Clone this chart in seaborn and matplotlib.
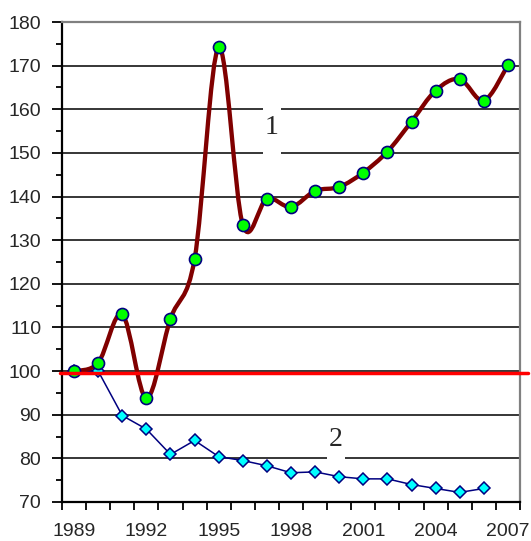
import numpy as np
import matplotlib
matplotlib.use("Agg")
import matplotlib.pyplot as plt
import seaborn as sns
from matplotlib.path import Path
from matplotlib.patches import PathPatch, Rectangle

# data
years_1 = list(range(1989, 2008))
index_1 = [100, 101.9, 113.0, 93.8, 112.0, 125.7, 174.2, 133.5, 139.5, 137.6,
           141.3, 142.2, 145.5, 150.3, 157.2, 164.3, 166.9, 162.0, 170.1]
years_2 = list(range(1989, 2007))
index_2 = [100, 100, 89.8, 86.7, 80.9, 84.1, 80.4, 79.5, 78.3, 76.7,
           76.9, 75.8, 75.3, 75.3, 74.0, 73.1, 72.2, 73.1]
baseline = 99.6
year_labels = years_1[::3]
y_ticks = list(range(70, 181, 10))

sns.set_style("white")
plt.rcParams["font.family"] = ["Liberation Sans", "DejaVu Sans"]


def smooth_path(xs, ys):
    # Excel-like smoothed line: Catmull-Rom segments as cubic Bezier curves
    pts = np.column_stack([xs, ys]).astype(float)
    n = len(pts)
    verts = [pts[0]]
    codes = [Path.MOVETO]
    for i in range(n - 1):
        p0 = pts[i - 1] if i > 0 else pts[i]
        p1 = pts[i]
        p2 = pts[i + 1]
        p3 = pts[i + 2] if i + 2 < n else pts[i + 1]
        verts += [p1 + (p2 - p0) / 6, p2 - (p3 - p1) / 6, p2]
        codes += [Path.CURVE4] * 3
    return Path(verts, codes)


fig = plt.figure(figsize=(5.31, 5.41), dpi=100)
ax = fig.add_axes([0.1168, 0.0721, 0.8625, 0.8872])

# series 2 - thin navy line with cyan diamonds
sns.lineplot(x=years_2, y=index_2, ax=ax, color="#000080", lw=1.1,
             marker="D", markersize=6.5, markerfacecolor="#00FFFF",
             markeredgecolor="#000080", markeredgewidth=1.1, zorder=3)

# series 1 - thick dark red smoothed line with green dots
ax.add_patch(PathPatch(smooth_path(years_1, index_1), facecolor="none",
                       edgecolor="#800000", lw=3.1, capstyle="round",
                       joinstyle="round", zorder=4))
sns.scatterplot(x=years_1, y=index_1, ax=ax, s=75, color="#00FF00",
                edgecolor="#000080", linewidth=1.2, zorder=5)

# red 100% line
ax.axhline(baseline, xmin=-0.004, xmax=1.017, color="#FF0000", lw=2.5,
           clip_on=False, zorder=6)

ax.set_xlim(1988.5, 2007.5)
ax.set_ylim(70, 180)

ax.set_xticks(np.arange(1988.5, 2008, 1))
ax.set_xticklabels([])
ax.set_xticks(year_labels, minor=True)
ax.set_xticklabels([str(y) for y in year_labels], minor=True)
ax.tick_params(axis="x", which="major", direction="out", length=6, width=1.3,
               color="black", bottom=True)
ax.tick_params(axis="x", which="minor", length=0, pad=15, labelsize=14)

ax.set_yticks(y_ticks)
ax.set_yticks(np.arange(75, 180, 10), minor=True)
ax.tick_params(axis="y", which="major", direction="out", length=7, width=1.3,
               color="black", left=True, pad=8, labelsize=14)
ax.tick_params(axis="y", which="minor", direction="out", length=4, width=1.3,
               color="black", left=True)

ax.grid(axis="y", which="major", color="black", lw=1.1)
ax.set_axisbelow(True)

for side in ["left", "bottom"]:
    ax.spines[side].set_color("black")
    ax.spines[side].set_linewidth(1.6)
for side in ["top", "right"]:
    ax.spines[side].set_color("#808080")
    ax.spines[side].set_linewidth(1.6)

# curve labels on white patches that break the grid lines
ax.add_patch(Rectangle((1996.84, 149.0), 0.75, 12.5, facecolor="white",
                       edgecolor="none", zorder=1))
ax.text(1997.21, 155.9, "1", ha="center", va="center", fontsize=20,
        family=["Liberation Serif", "DejaVu Serif"], zorder=2)
ax.add_patch(Rectangle((1999.5, 79.0), 0.74, 9.6, facecolor="white",
                       edgecolor="none", zorder=1))
ax.text(1999.87, 84.4, "2", ha="center", va="center", fontsize=20,
        family=["Liberation Serif", "DejaVu Serif"], zorder=2)

fig.savefig("out.png", dpi=100)
